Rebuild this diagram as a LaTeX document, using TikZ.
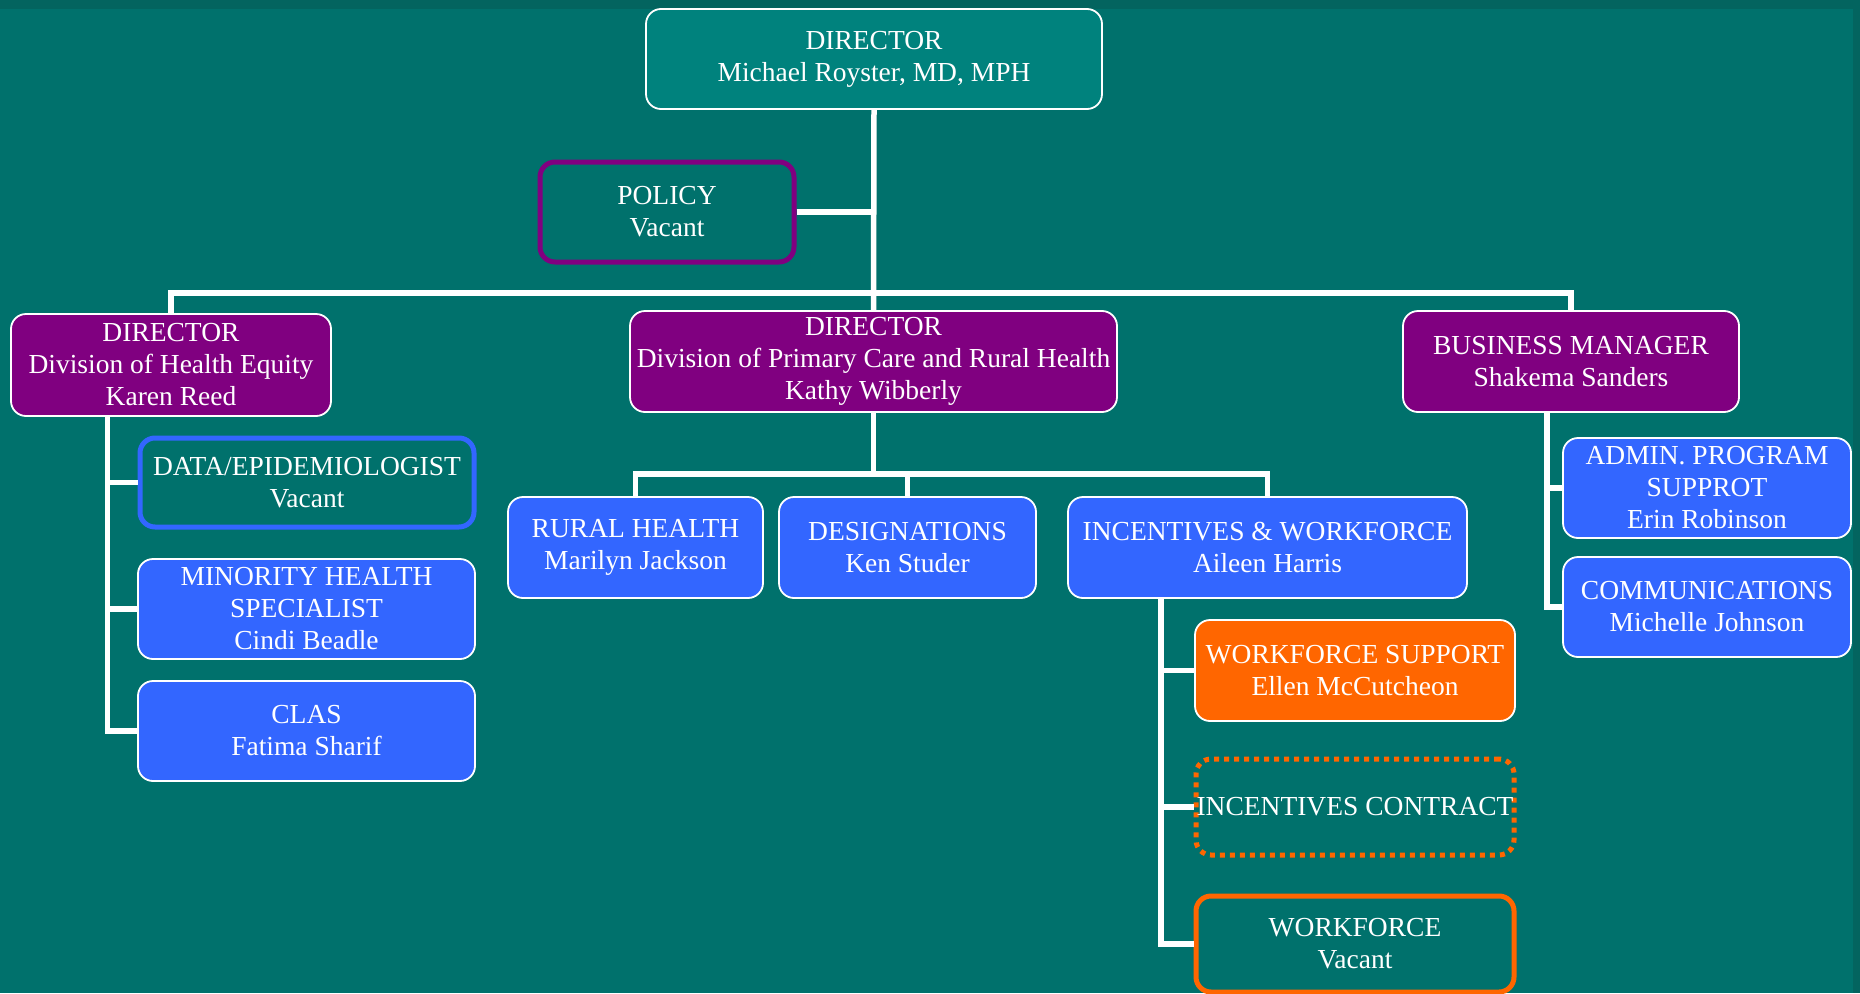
\documentclass[tikz,border=0pt]{standalone}
\usepackage{fontspec}
\setmainfont{Liberation Serif}
\definecolor{bgteal}{HTML}{00716C}
\definecolor{bgdark}{HTML}{03645F}
\definecolor{topteal}{HTML}{00827D}
\definecolor{orgpurple}{HTML}{800080}
\definecolor{orgblue}{HTML}{3366FF}
\definecolor{orgorange}{HTML}{FF6600}
\tikzset{
  box/.style={rounded corners=15pt, draw=white, line width=1.8pt, align=center,
    text=white, font=\fontsize{27.5}{32}\selectfont, inner sep=0pt},
  purplebox/.style={box, fill=orgpurple},
  bluebox/.style={box, fill=orgblue},
  orangebox/.style={box, fill=orgorange},
  topbox/.style={box, fill=topteal},
  ringpurple/.style={box, draw=orgpurple, line width=5pt},
  ringblue/.style={box, draw=orgblue, line width=5pt},
  ringorange/.style={box, draw=orgorange, line width=5pt},
  dotorange/.style={box, draw=orgorange, line width=5pt, dash pattern=on 5pt off 5pt},
  conn/.style={draw=white, line width=5.5pt},
}
\begin{document}
\begin{tikzpicture}[x=1pt, y=-1pt]
\useasboundingbox (0,0) rectangle (1860,993);
\fill[bgteal] (0,0) rectangle (1860,993);
\fill[bgdark] (0,0) rectangle (1860,9);
\fill[bgdark] (1853,0) rectangle (1860,993);

% nodes
\node[topbox, minimum width=456pt, minimum height=100pt] (dir) at (874,59) {DIRECTOR\\Michael Royster, MD, MPH};
\node[ringpurple, minimum width=254pt, minimum height=100pt] (policy) at (667,212) {POLICY\\Vacant};

\node[purplebox, minimum width=320pt, minimum height=102pt] (left) at (171,365) {DIRECTOR\\Division of Health Equity\\Karen Reed};
\node[purplebox, minimum width=487pt, minimum height=101pt] (mid) at (873.5,361.5) {DIRECTOR\\Division of Primary Care and Rural Health\\Kathy Wibberly};
\node[purplebox, minimum width=336pt, minimum height=101pt] (right) at (1571,361.5) {BUSINESS MANAGER\\Shakema Sanders};

\node[ringblue, minimum width=334pt, minimum height=89pt] (data) at (307,482.5) {DATA/EPIDEMIOLOGIST\\Vacant};
\node[bluebox, minimum width=337pt, minimum height=100pt] (minor) at (306.5,609) {MINORITY HEALTH\\SPECIALIST\\Cindi Beadle};
\node[bluebox, minimum width=337pt, minimum height=100pt] (clas) at (306.5,731) {CLAS\\Fatima Sharif};

\node[bluebox, minimum width=255pt, minimum height=101pt] (rural) at (635.5,547.5) {RURAL HEALTH\\Marilyn Jackson};
\node[bluebox, minimum width=257pt, minimum height=101pt] (desig) at (907.5,547.5) {DESIGNATIONS\\Ken Studer};
\node[bluebox, minimum width=399pt, minimum height=101pt] (incent) at (1267.5,547.5) {INCENTIVES \& WORKFORCE\\Aileen Harris};

\node[orangebox, minimum width=320pt, minimum height=101pt] (wsup) at (1355,670.5) {WORKFORCE SUPPORT\\Ellen McCutcheon};
\node[dotorange, minimum width=318pt, minimum height=96pt] (icon) at (1355,807) {INCENTIVES CONTRACT};
\node[ringorange, minimum width=318pt, minimum height=96pt] (wf) at (1355,944) {WORKFORCE\\Vacant};

\node[bluebox, minimum width=288pt, minimum height=100pt] (admin) at (1707,488) {ADMIN. PROGRAM\\SUPPROT\\Erin Robinson};
\node[bluebox, minimum width=288pt, minimum height=100pt] (comm) at (1707,607) {COMMUNICATIONS\\Michelle Johnson};

% helper coordinates
\coordinate (bar) at (874,293);
\coordinate (mbar) at (874,474);
\coordinate (lx) at (107.5,0);
\coordinate (ix) at (1161,0);
\coordinate (rx) at (1547,0);

% connectors
\draw[conn] (dir.south) -- (mid.north);
\draw[conn] (policy.east) -- (policy.east -| dir.south);
\draw[conn] (left.north) |- (right.north |- bar) -- (right.north);

\draw[conn] (left.south -| lx) |- (clas.west);
\draw[conn] (data.west -| lx) -- (data.west);
\draw[conn] (minor.west -| lx) -- (minor.west);

\draw[conn] (mid.south) -- (mid.south |- mbar);
\draw[conn] (rural.north) |- (incent.north |- mbar) -- (incent.north);
\draw[conn] (desig.north) -- (desig.north |- mbar);

\draw[conn] (incent.south -| ix) |- (wf.west);
\draw[conn] (wsup.west -| ix) -- (wsup.west);
\draw[conn] (icon.west -| ix) -- (icon.west);

\draw[conn] (right.south -| rx) |- (comm.west);
\draw[conn] (admin.west -| rx) -- (admin.west);
\end{tikzpicture}
\end{document}
